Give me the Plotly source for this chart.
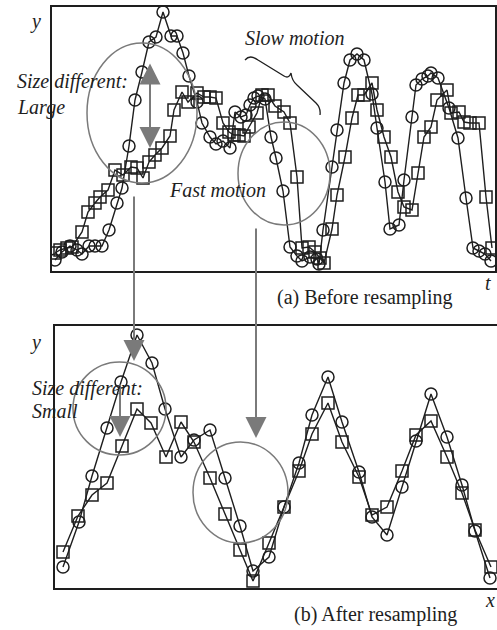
import plotly.graph_objects as go

# ---------- (a) Before resampling : time axis t ----------
a_circ_t = [3, 10, 18, 25, 30, 37, 43, 50, 57, 65, 70, 77, 83, 90, 97, 104, 111, 119, 125, 131,
            137, 145, 150, 158, 164, 171, 178, 183, 189, 194, 198, 202, 206, 213, 219, 224, 231, 238,
            245, 250, 258, 265, 267, 271, 280, 285, 292, 298, 305, 312, 320, 325, 333, 338, 347, 352,
            360, 364, 370, 376, 379, 386, 397, 406, 414, 421, 427, 433, 439]
a_circ_y = [11, 19, 25, 21, 17, 25, 25, 25, 41, 68, 83, 125, 171, 199, 229, 234, 259, 235, 235, 218,
            195, 169, 148, 134, 127, 130, 123, 159, 154, 156, 166, 173, 175, 172, 134, 113, 80, 24,
            15, 10, 14, 12, 7, 41, 104, 141, 188, 211, 217, 211, 177, 143, 89, 42, 46, 91,
            154, 186, 192, 195, 198, 193, 163, 133, 73, 23, 20, 17, 10]

a_sq_t = [3, 8, 15, 20, 30, 36, 43, 48, 56, 63, 71, 79, 85, 91, 97, 103, 110, 118, 122, 130, 136,
          145, 152, 158, 164, 171, 177, 182, 187, 192, 197, 205, 210, 216, 223, 232, 238, 245, 250,
          257, 263, 268, 272, 280, 285, 293, 300, 306, 312, 320, 325, 332, 339, 346, 352, 360, 366,
          372, 379, 385, 395, 399, 407, 412, 418, 427, 434, 440]
a_sq_y = [18, 21, 23, 24, 39, 59, 68, 74, 81, 101, 96, 104, 103, 93, 109, 116, 123, 135, 161, 179, 169,
          178, 174, 174, 173, 148, 139, 136, 136, 135, 144, 158, 176, 176, 165, 159, 148, 94, 23,
          24, 19, 13, 8, 42, 76, 114, 153, 176, 176, 188, 161, 134, 114, 79, 64, 61, 98,
          134, 144, 171, 181, 158, 159, 149, 148, 148, 74, 23]

# ---------- (b) After resampling : arc-length axis x ----------
b_circ_x = [8, 24, 37, 52, 66, 82, 97, 110, 126, 139, 155, 170, 185, 198, 214, 229, 244, 257, 273,
            287, 304, 317, 332, 347, 361, 376, 392, 407, 420, 435]
b_circ_y = [21, 66, 112, 160, 206, 253, 225, 179, 131, 148, 158, 110, 62, 17, 31, 81, 125, 173, 211,
            166, 116, 71, 53, 101, 147, 194, 151, 103, 57, 10]

b_sq_x = [8, 23, 37, 52, 67, 82, 96, 111, 126, 139, 155, 170, 185, 198, 214, 229, 244, 257, 273,
          287, 304, 317, 332, 347, 361, 376, 392, 407, 420, 436]
b_sq_y = [36, 72, 93, 105, 142, 179, 165, 131, 166, 146, 110, 74, 38, 7, 45, 81, 117, 154, 185,
          146, 111, 73, 81, 117, 153, 167, 131, 95, 58, 21]

INK = "#1e1e1e"
GRAY = "#7a7a7a"
W, H = 497, 630
SERIF = "Liberation Serif, Times New Roman, serif"


def px_x(p):
    return p / W


def px_y(p):
    return 1 - p / H


fig = go.Figure()
mk = dict(size=12, line=dict(width=1.5, color=INK), color=INK)
for xs, ys, sym, xa, ya in [(a_circ_t, a_circ_y, "circle-open", "x", "y"),
                            (a_sq_t, a_sq_y, "square-open", "x", "y"),
                            (b_circ_x, b_circ_y, "circle-open", "x2", "y2"),
                            (b_sq_x, b_sq_y, "square-open", "x2", "y2")]:
    fig.add_trace(go.Scatter(x=xs, y=ys, mode="lines+markers",
                             line=dict(color=INK, width=1.4),
                             marker=dict(symbol=sym, **mk), xaxis=xa, yaxis=ya))

ax_common = dict(showgrid=False, zeroline=False, showticklabels=False, ticks="",
                 showline=True, linecolor=INK, linewidth=2)
fig.update_layout(
    width=W, height=H, margin=dict(l=0, r=0, t=0, b=0),
    paper_bgcolor="white", plot_bgcolor="white", showlegend=False,
    xaxis=dict(domain=[px_x(52), px_x(495)], range=[0, 443], mirror=True, **ax_common),
    yaxis=dict(domain=[px_y(271), px_y(7)], range=[0, 264], mirror=True, **ax_common),
    xaxis2=dict(domain=[px_x(55), 1.0], range=[0, 442], mirror=True, anchor="y2", **ax_common),
    yaxis2=dict(domain=[px_y(588), px_y(326)], range=[0, 262], mirror=False, anchor="x2", **ax_common),
)

shapes = []
# top-panel ellipse (size difference) and circle (fast motion)
shapes.append(dict(type="circle", xref="x", yref="y", x0=35, x1=145, y0=88, y1=228,
                   line=dict(color=GRAY, width=1.5)))
shapes.append(dict(type="circle", xref="x", yref="y", x0=186, x1=278, y0=46, y1=149,
                   line=dict(color=GRAY, width=1.5)))
# brace over "slow motion"
shapes.append(dict(type="path", xref="x", yref="y",
                   path="M 193,211 Q 198,217 206,211 L 232,195 Q 237,192 239,198 "
                        "Q 240,190 245,186 L 264,168 Q 269,163 268,156",
                   line=dict(color=INK, width=1.3)))
# bottom-panel circles
shapes.append(dict(type="circle", xref="x2", yref="y2", x0=18, x1=111, y0=133, y1=226,
                   line=dict(color=GRAY, width=1.5)))
shapes.append(dict(type="circle", xref="x2", yref="y2", x0=138, x1=233, y0=45, y1=146,
                   line=dict(color=GRAY, width=1.5)))
fig.update_layout(shapes=shapes)

ann = []
arrow = dict(showarrow=True, arrowcolor=GRAY, arrowwidth=2, arrowhead=2, arrowsize=2.1,
             standoff=0, startstandoff=0, text="")
# top double arrow
ann.append(dict(xref="x", yref="y", x=98, y=123, axref="x", ayref="y", ax=98, ay=209,
                arrowside="end+start", **arrow))
# bottom arrow
ann.append(dict(xref="x2", yref="y2", x=65, y=151, axref="x2", ayref="y2", ax=65, ay=205,
                **arrow))
# connecting arrows between panels
ann.append(dict(xref="paper", yref="paper", x=px_x(134), y=px_y(361), ax=0, ay=-166, **arrow))
ann.append(dict(xref="paper", yref="paper", x=px_x(256), y=px_y(438), ax=0, ay=-211, **arrow))

def txt(s, x, y, italic=True, anchor="left", size=20):
    return dict(xref="paper", yref="paper", x=px_x(x), y=px_y(y), text=s, showarrow=False,
                xanchor=anchor, yanchor="middle",
                font=dict(family=SERIF, size=size, color=INK,
                          style="italic" if italic else "normal"))

ann += [
    txt("Size different:", 15, 82),
    txt("Large", 15, 107),
    txt("Slow motion", 243, 38),
    txt("Fast motion", 167, 190),
    txt("Size different:", 30, 388),
    txt("Small", 30, 411),
    txt("y", 35, 22, anchor="center"),
    txt("t", 488, 283, anchor="center"),
    txt("y", 35, 342, anchor="center"),
    txt("x", 490, 600, anchor="center"),
    txt("(a) Before resampling", 364, 297, italic=False, anchor="center"),
    txt("(b) After resampling", 375, 614, italic=False, anchor="center"),
]
fig.update_layout(annotations=ann)

fig.write_html("out.html")
